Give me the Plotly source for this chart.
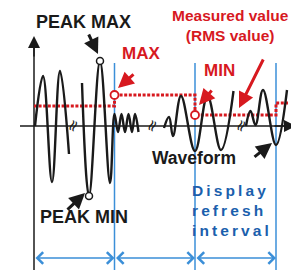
import plotly.graph_objects as go

# Coordinate system: x = horizontal pixel-like time units, y = amplitude (0 = time axis)
W, H = 299, 270
AXIS_Y = 118  # distance of time axis from top

# ---- data -------------------------------------------------------------
seg1_x = [27, 35, 44, 52, 61]
seg1_y = [0, 50, -56, 55, -28]
seg2_x = [74, 81, 92, 102, 106.5, 110, 113.5, 117, 120.5, 124, 127, 130.5]
seg2_y = [43, -70, 65, -57, 12, -6, 12, -6, 12, -6, 12, -6]
seg3_x = [156, 161, 165, 173, 187, 199.5, 213, 225.5]
seg3_y = [-2, 9, -10, 30, -25, 30, -24, 35]
seg4_x = [238, 242.5, 247.5, 255, 268, 279]
seg4_y = [0, 15, 1, 36, -19, 36]

rms_x = [26, 106.5, 106.5, 187, 187, 268, 268, 280]
rms_y = [20, 20, 31, 31, 11, 11, 23, 23]

peak_x = [92, 81]
peak_y = [65, -70]
mm_x = [106.5, 187]
mm_y = [31, 11]

refresh_x = [26, 106.5, 187, 268]
refresh_top = 63
bottom = AXIS_Y - H
refresh_arrow_y = -132
break_x = [64, 143, 232]
refresh_words = ["Display", "refresh", "interval"]
measured_lines = ["Measured value", "(RMS value)"]

RED = "#d7191f"
BLUE_LINE = "#3b8fd8"
BLUE_TXT = "#1b5fad"
BLACK = "#1a1a1a"
FONT = "Liberation Sans"
TXT_SHIFT = 6

fig = go.Figure()

# blue refresh-interval boundaries
for bx in refresh_x[1:]:
    fig.add_trace(go.Scatter(x=[bx, bx], y=[refresh_top, bottom], mode="lines",
                             line=dict(color=BLUE_LINE, width=1.5), hoverinfo="skip"))

# vertical axis line
fig.add_trace(go.Scatter(x=[26, 26], y=[80, bottom], mode="lines",
                         line=dict(color=BLACK, width=1.5), hoverinfo="skip"))
# horizontal axis line
fig.add_trace(go.Scatter(x=[12, 282], y=[0, 0], mode="lines",
                         line=dict(color=BLACK, width=1.5), hoverinfo="skip"))

# red RMS step line
fig.add_trace(go.Scatter(x=rms_x, y=rms_y, mode="lines",
                         line=dict(color=RED, width=3, dash="3px,1.6px"), hoverinfo="skip"))

# waveform
for sx, sy in [(seg1_x, seg1_y), (seg2_x, seg2_y), (seg3_x, seg3_y), (seg4_x, seg4_y)]:
    fig.add_trace(go.Scatter(x=sx, y=sy, mode="lines",
                             line=dict(color=BLACK, width=2.4, shape="spline", smoothing=1.1),
                             hoverinfo="skip"))

# markers
fig.add_trace(go.Scatter(x=peak_x, y=peak_y, mode="markers",
                         marker=dict(size=7, color="white", line=dict(color=BLACK, width=1.5))))
fig.add_trace(go.Scatter(x=mm_x, y=mm_y, mode="markers",
                         marker=dict(size=8, color="white", line=dict(color=RED, width=1.8))))

ann = []
# axis arrowheads
ann.append(dict(x=26, y=AXIS_Y - 28, ax=26, ay=AXIS_Y - 50, xref="x", yref="y", axref="x", ayref="y",
                showarrow=True, arrowhead=2, arrowsize=1.6, arrowwidth=1.5, arrowcolor=BLACK,
                standoff=0, text=""))
ann.append(dict(x=288, y=0, ax=265, ay=0, xref="x", yref="y", axref="x", ayref="y",
                showarrow=True, arrowhead=2, arrowsize=1.6, arrowwidth=1.5, arrowcolor=BLACK,
                standoff=0, text=""))

# pointer arrows (tail -> tip)
pointers = [
    ((80, 93), (90, 72), BLACK),     # PEAK MAX
    ((58, -85), (77, -67), BLACK),   # PEAK MIN
    ((127, 53), (110, 38), RED),     # MAX
    ((205, 37), (191, 21), RED),     # MIN
    ((256, 68), (231, 18), RED),     # Measured value
    ((245, -32), (264, -17), BLACK), # Waveform
]
for (tx, ty), (hx, hy), col in pointers:
    ann.append(dict(x=hx, y=hy, ax=tx, ay=ty, xref="x", yref="y", axref="x", ayref="y",
                    showarrow=True, arrowhead=2, arrowsize=1.05, arrowwidth=3, arrowcolor=col,
                    standoff=0, text=""))

# refresh interval double arrows
for a, b in zip(refresh_x[:-1], refresh_x[1:]):
    ann.append(dict(x=b, y=refresh_arrow_y, ax=a, ay=refresh_arrow_y, xref="x", yref="y",
                    axref="x", ayref="y", showarrow=True, arrowhead=4, startarrowhead=4,
                    arrowside="end+start", arrowsize=1.5, startarrowsize=1.5, arrowwidth=1.5,
                    arrowcolor=BLUE_LINE, standoff=0, startstandoff=0, text=""))

# break marks
for bx in break_x:
    ann.append(dict(x=bx, y=0, xref="x", yref="y", text="≈", showarrow=False, textangle=-65,
                    font=dict(family="DejaVu Sans", size=16, color=BLACK)))

def label(x, y, text, color, size, anchor="center", yanchor="middle", family=FONT,
          shift=TXT_SHIFT, align="left"):
    ann.append(dict(x=x, y=y + shift, xref="x", yref="y", text=f"<b>{text}</b>", showarrow=False,
                    xanchor=anchor, yanchor=yanchor, align=align,
                    font=dict(family=family, size=size, color=color)))

label(75, AXIS_Y - 2, "PEAK MAX", BLACK, 18, yanchor="top", shift=0)
label(76, AXIS_Y - 215, "PEAK MIN", BLACK, 18)
label(133, AXIS_Y - 51, "MAX", RED, 17)
label(211, AXIS_Y - 68, "MIN", RED, 17)
label(222, AXIS_Y - 23, "<br>".join(measured_lines), RED, 15.5, align="center")
label(186, AXIS_Y - 156, "Waveform", BLACK, 17.5)
spaced = "<br>".join("\u2009".join(w) for w in refresh_words)
label(182, AXIS_Y - 208, spaced, BLUE_TXT, 15.5, anchor="left")

fig.update_layout(
    width=W, height=H, margin=dict(l=0, r=0, t=0, b=0),
    paper_bgcolor="white", plot_bgcolor="white", showlegend=False,
    xaxis=dict(range=[0, W], visible=False, fixedrange=True),
    yaxis=dict(range=[AXIS_Y - H, AXIS_Y], visible=False, fixedrange=True),
    annotations=ann,
)

fig.write_html("out.html")
